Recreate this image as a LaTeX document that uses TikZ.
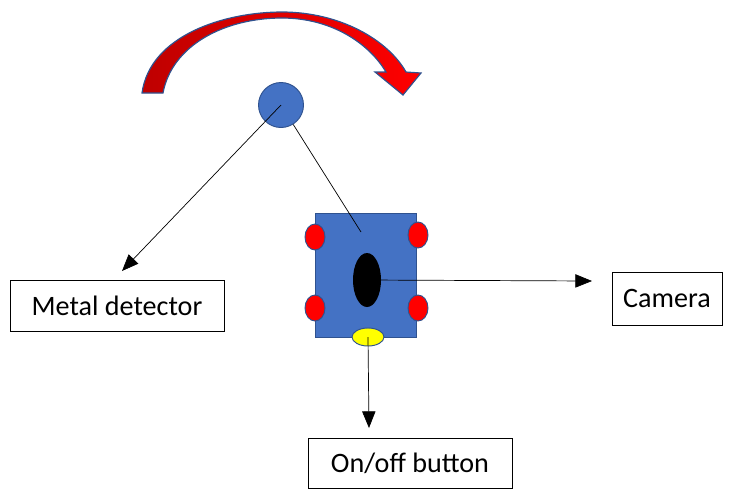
\documentclass[tikz,border=0pt]{standalone}
\usepackage{fontspec}
\setmainfont{Carlito}
\usetikzlibrary{shapes.geometric,arrows.meta}
\definecolor{robotblue}{RGB}{68,114,196}
\definecolor{edgeblue}{RGB}{47,82,143}
\definecolor{wheelred}{RGB}{255,0,0}
\definecolor{darkred}{RGB}{190,0,0}
\definecolor{buttonyellow}{RGB}{255,255,0}
\tikzset{
  labelbox/.style={rectangle, draw=black, fill=white, line width=0.6pt,
                   inner sep=0pt, font=\fontsize{24}{28}\selectfont},
  wheel/.style={ellipse, draw=edgeblue, fill=wheelred, line width=0.8pt,
                minimum width=0.6cm, minimum height=0.78cm, inner sep=0pt},
  pointer/.style={-{Triangle[length=5mm,width=4mm]}, line width=0.6pt},
  plainline/.style={line width=0.6pt}
}

\begin{document}
\begin{tikzpicture}[x=0.03cm, y=-0.03cm]
  \useasboundingbox (0,0) rectangle (733,490);

  % turning arrow
  \draw[edgeblue, line width=1pt, left color=darkred, right color=wheelred]
    (142,93) .. controls (150,35) and (225,12) .. (282,12)
    .. controls (340,12) and (388,40) .. (406,72)
    -- (421,73) -- (403,95) -- (375,72) -- (386,72)
    .. controls (368,42) and (330,18) .. (282,18)
    .. controls (225,18) and (172,45) .. (163,93) -- cycle;

  % detector head
  \node[circle, draw=edgeblue, fill=robotblue, minimum size=1.35cm,
        line width=0.8pt, inner sep=0pt] (det) at (281,105) {};

  % robot body
  \node[rectangle, draw=edgeblue, fill=robotblue, line width=0.8pt,
        minimum width=3.03cm, minimum height=3.72cm, inner sep=0pt]
        (body) at (365.5,275) {};
  \node[wheel] (wfl) at (315,237) {};
  \node[wheel] (wbl) at (315,308) {};
  \node[wheel] (wfr) at (418,235) {};
  \node[wheel] (wbr) at (418,308) {};
  \node[ellipse, fill=black, minimum width=0.84cm, minimum height=1.62cm,
        inner sep=0pt] (cam) at (367,280) {};
  \node[ellipse, draw=edgeblue, fill=buttonyellow, line width=0.8pt,
        minimum width=0.96cm, minimum height=0.54cm, inner sep=0pt]
        (button) at (368,337) {};

  % labels
  \node[labelbox, minimum width=6.42cm, minimum height=1.53cm]
        (metal) at (117,305.5) {Metal detector};
  \node[labelbox, minimum width=3.3cm, minimum height=1.59cm]
        (camera) at (667,298.5) {Camera};
  \node[labelbox, minimum width=6.12cm, minimum height=1.5cm]
        (onoff) at (410,463) {On/off button};

  % connectors
  \coordinate (hit) at (361,232);
  \coordinate (mtip) at (122,271);
  \coordinate (ctip) at (592,281);
  \coordinate (btip) at (369,428);
  \draw[plainline] (det) -- (hit);
  \draw[pointer] (det.center) -- (mtip);
  \draw[pointer] (cam) -- (ctip);
  \draw[pointer] (button.center) -- (btip);
\end{tikzpicture}
\end{document}
